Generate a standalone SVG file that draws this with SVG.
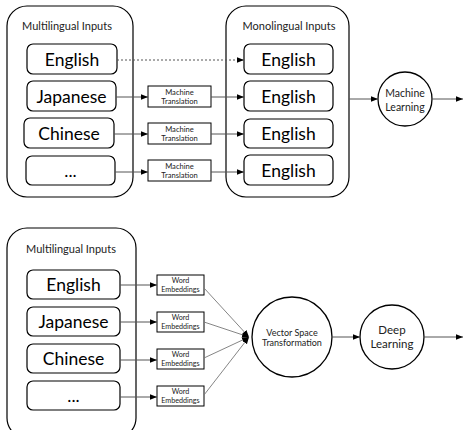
<svg xmlns="http://www.w3.org/2000/svg" width="464" height="430" viewBox="0 0 464 430">
<defs>
<marker id="ah" viewBox="0 0 10 10" refX="10" refY="5" markerWidth="7" markerHeight="7" markerUnits="userSpaceOnUse" orient="auto">
<path d="M0,1 L10,5 L0,9 Z" fill="#000"/>
</marker>
</defs>
<style>
.grp{fill:#fff;stroke:#000;stroke-width:1.2}
.box{fill:#fff;stroke:#000;stroke-width:1.2}
.sm{fill:#fff;stroke:#000;stroke-width:1}
.c{fill:#fff;stroke:#000;stroke-width:1.3}
text{font-family:Lato,"Open Sans","Liberation Sans",sans-serif;fill:#222;text-anchor:middle;dominant-baseline:central}
.t{font-size:10.5px}
.ttl{font-size:11px}
.big{font-size:17.5px;fill:#000}
.mt{font-size:7.6px}
.we{font-size:7.2px}
.ln{stroke:#555;stroke-width:1;fill:none;marker-end:url(#ah)}
.dash{stroke-dasharray:2,2}
.cv{stroke:#777;stroke-width:0.9;fill:none}
</style>
<g id="multi1">
<rect class="grp" x="7" y="6" width="126" height="191" rx="20"/>
<text class="ttl" x="67" y="25">Multilingual Inputs</text>
</g>
<g id="m1-english"><rect class="box" x="27" y="44" width="90" height="30" rx="6"/><text class="big" x="72" y="59">English</text></g>
<g id="m1-japanese"><rect class="box" x="27" y="81" width="89" height="30" rx="6"/><text class="big" x="71.5" y="96">Japanese</text></g>
<g id="m1-chinese"><rect class="box" x="24" y="118" width="90" height="30" rx="6"/><text class="big" x="69" y="133">Chinese</text></g>
<g id="m1-etc"><rect class="box" x="26" y="156" width="89" height="29" rx="6"/><text class="big" x="70.5" y="170">...</text></g>
<g id="mt1"><rect class="sm" x="148" y="86" width="63" height="21"/><text class="mt" x="179.5" y="92">Machine</text><text class="mt" x="179.5" y="101">Translation</text></g>
<g id="mt2"><rect class="sm" x="148" y="123" width="63" height="21"/><text class="mt" x="179.5" y="129">Machine</text><text class="mt" x="179.5" y="138">Translation</text></g>
<g id="mt3"><rect class="sm" x="148" y="160" width="63" height="21"/><text class="mt" x="179.5" y="166">Machine</text><text class="mt" x="179.5" y="175">Translation</text></g>
<g id="mono">
<rect class="grp" x="226" y="6" width="123" height="191" rx="20"/>
<text class="ttl" x="289" y="25">Monolingual Inputs</text>
</g>
<g id="e1"><rect class="box" x="244" y="44" width="89" height="30" rx="6"/><text class="big" x="288.5" y="59">English</text></g>
<g id="e2"><rect class="box" x="244" y="81" width="89" height="30" rx="6"/><text class="big" x="288.5" y="96">English</text></g>
<g id="e3"><rect class="box" x="244" y="119" width="89" height="29" rx="6"/><text class="big" x="288.5" y="133">English</text></g>
<g id="e4"><rect class="box" x="244" y="155" width="89" height="30" rx="6"/><text class="big" x="288.5" y="170">English</text></g>
<g id="ml"><circle class="c" cx="405" cy="99" r="27"/><text class="t" x="405" y="93">Machine</text><text class="t" x="405" y="107">Learning</text></g>
<g id="multi2">
<rect class="grp" x="7" y="228" width="129" height="210" rx="20"/>
<text class="ttl" x="71" y="248">Multilingual Inputs</text>
</g>
<g id="m2-english"><rect class="box" x="27" y="270" width="93" height="29" rx="6"/><text class="big" x="73.5" y="284.5">English</text></g>
<g id="m2-japanese"><rect class="box" x="27" y="307" width="93" height="29" rx="6"/><text class="big" x="73.5" y="321.5">Japanese</text></g>
<g id="m2-chinese"><rect class="box" x="27" y="344" width="93" height="29" rx="6"/><text class="big" x="73.5" y="358.5">Chinese</text></g>
<g id="m2-etc"><rect class="box" x="27" y="381" width="93" height="29" rx="6"/><text class="big" x="73.5" y="395.5">...</text></g>
<g id="we1"><rect class="sm" x="157" y="275" width="47" height="20"/><text class="we" x="180.5" y="280.5">Word</text><text class="we" x="180.5" y="289">Embeddings</text></g>
<g id="we2"><rect class="sm" x="157" y="312" width="47" height="20"/><text class="we" x="180.5" y="317.5">Word</text><text class="we" x="180.5" y="326">Embeddings</text></g>
<g id="we3"><rect class="sm" x="157" y="349" width="47" height="20"/><text class="we" x="180.5" y="354.5">Word</text><text class="we" x="180.5" y="363">Embeddings</text></g>
<g id="we4"><rect class="sm" x="157" y="386" width="47" height="20"/><text class="we" x="180.5" y="391.5">Word</text><text class="we" x="180.5" y="400">Embeddings</text></g>
<g id="vst"><circle class="c" cx="292" cy="337" r="40"/><text class="t" x="292" y="332" style="font-size:9px">Vector Space</text><text class="t" x="292" y="342" style="font-size:9px">Transformation</text></g>
<g id="dl"><circle class="c" cx="392" cy="337" r="32"/><text class="t" x="392" y="329" style="font-size:11.5px">Deep</text><text class="t" x="392" y="343" style="font-size:11.5px">Learning</text></g>
<g id="connectors">
<line class="ln dash" x1="117" y1="60" x2="244" y2="60"/>
<line class="ln" x1="116" y1="97" x2="148" y2="97"/>
<line class="ln" x1="114" y1="134" x2="148" y2="134"/>
<line class="ln" x1="115" y1="172" x2="148" y2="172"/>
<line class="ln" x1="211" y1="97" x2="244" y2="97"/>
<line class="ln" x1="211" y1="134" x2="244" y2="134"/>
<line class="ln" x1="211" y1="172" x2="244" y2="172"/>
<line class="ln" x1="349" y1="99" x2="378" y2="99"/>
<line class="ln" x1="432" y1="99" x2="463" y2="99"/>
<line class="ln" x1="120" y1="285" x2="157" y2="285"/>
<line class="ln" x1="120" y1="322" x2="157" y2="322"/>
<line class="ln" x1="120" y1="360" x2="157" y2="360"/>
<line class="ln" x1="120" y1="397" x2="157" y2="397"/>
<line class="cv" x1="204" y1="288" x2="249" y2="337" marker-end="url(#ah)"/>
<line class="cv" x1="204" y1="322" x2="249" y2="337" marker-end="url(#ah)"/>
<line class="cv" x1="204" y1="358" x2="249" y2="337" marker-end="url(#ah)"/>
<line class="cv" x1="204" y1="395" x2="249" y2="337" marker-end="url(#ah)"/>
<line class="ln" x1="332" y1="337" x2="360" y2="337"/>
<line class="ln" x1="424" y1="337" x2="463" y2="337"/>
</g>
</svg>
